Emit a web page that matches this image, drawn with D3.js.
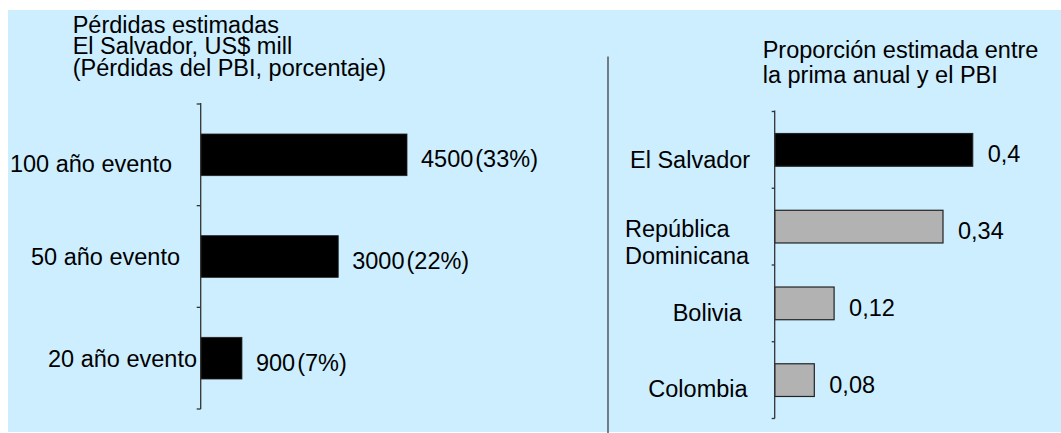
<!DOCTYPE html>
<html>
<head>
<meta charset="utf-8">
<script src="https://cdn.jsdelivr.net/npm/d3@7"></script>
<style>
  html, body { margin: 0; padding: 0; background: #ffffff; }
  svg { display: block; }
  text { font-family: "Liberation Sans", Arial, sans-serif; fill: #000; }
</style>
</head>
<body>
<svg id="chart" width="1061" height="433"></svg>
<script>
// ---- data ----
const lossCategories = ["100 año evento", "50 año evento", "20 año evento"];
const lossValues = [4500, 3000, 900];
const lossPercents = ["(33%)", "(22%)", "(7%)"];
const leftTitle = ["Pérdidas estimadas", "El Salvador, US$ mill", "(Pérdidas del PBI, porcentaje)"];

const countryCategories = ["El Salvador", "República Dominicana", "Bolivia", "Colombia"];
const countryLabelLines = [["El Salvador"], ["República", "Dominicana"], ["Bolivia"], ["Colombia"]];
const premiumValues = [0.4, 0.34, 0.12, 0.08];
const premiumLabels = ["0,4", "0,34", "0,12", "0,08"];
const highlightCountry = "El Salvador";
const rightTitle = ["Proporción estimada entre", "la prima anual y el PBI"];

// ---- layout (not data) ----
const FS = 23.5;
const svg = d3.select("#chart");
svg.append("rect").attr("x", 8).attr("y", 10).attr("width", 1053).attr("height", 422).attr("fill", "#cceeff");

// divider
svg.append("line").attr("x1", 608).attr("x2", 608).attr("y1", 56.5).attr("y2", 433)
  .attr("stroke", "#333").attr("stroke-width", 1.2);

// ---------- LEFT CHART ----------
const lx0 = 200.7;
const xL = d3.scaleLinear().domain([0, 4500]).range([lx0, lx0 + 206.3]);
const yL = d3.scaleBand().domain(lossCategories).range([104, 409]);
const barHL = yL.step() * 0.41;

const lt = svg.append("text").attr("font-size", FS);
lt.selectAll("tspan").data(leftTitle).enter().append("tspan")
  .attr("x", 72.7).attr("y", (d, i) => 32.5 + i * 21.5).text(d => d);

const gL = svg.append("g");
gL.selectAll("rect").data(lossCategories).enter().append("rect")
  .attr("x", xL(0))
  .attr("y", d => yL(d) + yL.step() / 2 - barHL / 2)
  .attr("width", (d, i) => xL(lossValues[i]) - xL(0))
  .attr("height", barHL)
  .attr("fill", "#000").attr("stroke", "#222").attr("stroke-width", 0.8);

// axis
const axL = svg.append("g");
axL.append("line").attr("x1", lx0).attr("x2", lx0).attr("y1", yL.range()[0] - 1).attr("y2", yL.range()[1])
  .attr("stroke", "#333").attr("stroke-width", 1.3);
const lBounds = lossCategories.map(d => yL(d)).concat([yL.range()[1]]);
axL.selectAll(".tk").data(lBounds).enter().append("line")
  .attr("x1", lx0 - 4).attr("x2", lx0).attr("y1", d => d).attr("y2", d => d)
  .attr("stroke", "#333").attr("stroke-width", 1.3);

// category labels (per-label nudges)
const lLabelEnd = [-28.7, -20.7, -3.7];
const lLabelDy = [17.5, 8.5, 8.5];
svg.selectAll(".lcat").data(lossCategories).enter().append("text")
  .attr("x", (d, i) => lx0 + lLabelEnd[i])
  .attr("y", (d, i) => yL(d) + yL.step() / 2 + lLabelDy[i])
  .attr("text-anchor", "end").attr("font-size", FS).text(d => d);

// value labels
const lv = svg.selectAll(".lval").data(lossCategories).enter().append("text")
  .attr("x", (d, i) => xL(lossValues[i]) + 14)
  .attr("y", d => yL(d) + yL.step() / 2 + 12.5)
  .attr("font-size", FS);
lv.append("tspan").text((d, i) => lossValues[i]);
lv.append("tspan").attr("dx", 2).text((d, i) => lossPercents[i]);

// ---------- RIGHT CHART ----------
const rx0 = 774.7;
const xR = d3.scaleLinear().domain([0, 0.4]).range([rx0, rx0 + 198]);
const yR = d3.scaleBand().domain(countryCategories).range([111.5, 418.5]);
const barHR = yR.step() * 0.426;

const rt = svg.append("text").attr("font-size", FS);
rt.selectAll("tspan").data(rightTitle).enter().append("tspan")
  .attr("x", 762.7).attr("y", (d, i) => 58.3 + i * 25).text(d => d);

svg.append("g").selectAll("rect").data(countryCategories).enter().append("rect")
  .attr("x", xR(0))
  .attr("y", d => yR(d) + yR.step() / 2 - barHR / 2)
  .attr("width", (d, i) => xR(premiumValues[i]) - xR(0))
  .attr("height", barHR)
  .attr("fill", d => d === highlightCountry ? "#000" : "#b2b2b2")
  .attr("stroke", "#222").attr("stroke-width", 1.2);

const axR = svg.append("g");
axR.append("line").attr("x1", rx0).attr("x2", rx0).attr("y1", yR.range()[0] - 1).attr("y2", yR.range()[1])
  .attr("stroke", "#333").attr("stroke-width", 1.3);
const rBounds = countryCategories.map(d => yR(d)).concat([yR.range()[1]]);
axR.selectAll(".tk").data(rBounds).enter().append("line")
  .attr("x1", rx0 - 3).attr("x2", rx0).attr("y1", d => d).attr("y2", d => d)
  .attr("stroke", "#333").attr("stroke-width", 1.3);

const rLabelStart = [-144.7, -149.7, -102, -126.4];
const rLabelDy = [17.8, 10.7, 17.6, 17.2];
const rc = svg.selectAll(".rcat").data(countryCategories).enter().append("text")
  .attr("font-size", FS);
rc.each(function(d, i) {
  const t = d3.select(this);
  countryLabelLines[i].forEach((line, j) => {
    t.append("tspan")
      .attr("x", rx0 + rLabelStart[i])
      .attr("y", yR(d) + yR.step() / 2 + rLabelDy[i] + j * 26.7)
      .text(line);
  });
});

svg.selectAll(".rval").data(countryCategories).enter().append("text")
  .attr("x", (d, i) => xR(premiumValues[i]) + 15)
  .attr("y", d => yR(d) + yR.step() / 2 + 12.5)
  .attr("font-size", FS).text((d, i) => premiumLabels[i]);
</script>
</body>
</html>
